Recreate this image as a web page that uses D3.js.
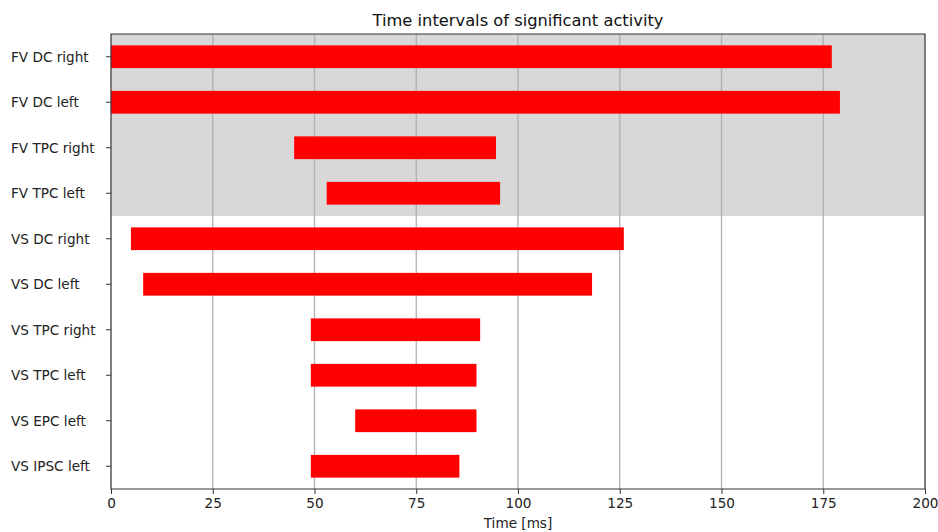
<!DOCTYPE html>
<html>
<head>
<meta charset="utf-8">
<script src="https://cdn.jsdelivr.net/npm/d3@7"></script>
<style>
  html, body { margin: 0; padding: 0; background: #fff; }
  svg { display: block; font-family: "DejaVu Sans", sans-serif; }
</style>
</head>
<body>
<svg id="chart" width="938" height="532"></svg>
<script>
const categories = ["FV DC right", "FV DC left", "FV TPC right", "FV TPC left",
  "VS DC right", "VS DC left", "VS TPC right", "VS TPC left", "VS EPC left", "VS IPSC left"];
const startTimes = [0, 0, 45.0, 53.0, 4.9, 7.9, 49.1, 49.1, 60.0, 49.1];
const endTimes = [177.1, 179.1, 94.6, 95.6, 126.0, 118.2, 90.7, 89.8, 89.8, 85.6];
const shadedCategories = ["FV DC right", "FV DC left", "FV TPC right", "FV TPC left"];
const xTicks = [0, 25, 50, 75, 100, 125, 150, 175, 200];
const xDomain = [0, 200];
const titleText = "Time intervals of significant activity";
const xLabel = "Time [ms]";

const svg = d3.select("#chart");
const margin = { left: 111, right: 13, top: 34, bottom: 43 };
const W = 938, H = 532;
const x = d3.scaleLinear().domain(xDomain).range([margin.left, W - margin.right]);
const y = d3.scaleBand().domain(categories).range([margin.top, H - margin.bottom]).paddingInner(0).paddingOuter(0);

// shading
const shadeTop = y(shadedCategories[0]);
const shadeBottom = y(shadedCategories[shadedCategories.length - 1]) + y.bandwidth();
svg.append("rect")
  .attr("x", x(xDomain[0])).attr("y", shadeTop)
  .attr("width", x(xDomain[1]) - x(xDomain[0])).attr("height", shadeBottom - shadeTop)
  .attr("fill", "#d8d8d8");

// grid
svg.append("g").selectAll("line").data(xTicks).join("line")
  .attr("x1", d => x(d)).attr("x2", d => x(d))
  .attr("y1", margin.top).attr("y2", H - margin.bottom)
  .attr("stroke", "#b0b0b0").attr("stroke-width", 1.3);

// bars
const rows = categories.map((c, i) => ({ c, s: startTimes[i], e: endTimes[i] }));
const bh = y.bandwidth() * 0.5;
svg.append("g").selectAll("rect").data(rows).join("rect")
  .attr("x", d => x(d.s))
  .attr("y", d => y(d.c) + (y.bandwidth() - bh) / 2)
  .attr("width", d => x(d.e) - x(d.s))
  .attr("height", bh)
  .attr("fill", "#ff0000");

// frame
svg.append("rect")
  .attr("x", margin.left).attr("y", margin.top)
  .attr("width", x(xDomain[1]) - x(xDomain[0])).attr("height", H - margin.bottom - margin.top)
  .attr("fill", "none").attr("stroke", "#333").attr("stroke-width", 1);

// x axis
const xAxis = svg.append("g").attr("transform", `translate(0,${H - margin.bottom})`)
  .call(d3.axisBottom(x).tickValues(xTicks).tickSize(5).tickPadding(4).tickFormat(d3.format("d")));
xAxis.select(".domain").remove();
xAxis.selectAll(".tick line").attr("stroke", "#333");
xAxis.selectAll(".tick text").attr("font-size", "13.6px").attr("fill", "#222")
  .attr("font-family", "DejaVu Sans, sans-serif");

// y axis
const yAxis = svg.append("g").attr("transform", `translate(${margin.left},0)`)
  .call(d3.axisLeft(y).tickSize(5).tickPadding(4));
yAxis.select(".domain").remove();
yAxis.selectAll(".tick line").attr("stroke", "#333");
yAxis.selectAll(".tick text").attr("font-size", "13.6px").attr("fill", "#222")
  .attr("font-family", "DejaVu Sans, sans-serif")
  .attr("text-anchor", "start").attr("x", 11 - margin.left).attr("dy", "0.38em");

// title
svg.append("text").attr("x", (x(xDomain[0]) + x(xDomain[1])) / 2).attr("y", 26)
  .attr("text-anchor", "middle").attr("font-size", "16.3px").attr("fill", "#111")
  .text(titleText);

// x label
svg.append("text").attr("x", (x(xDomain[0]) + x(xDomain[1])) / 2).attr("y", 527.5)
  .attr("text-anchor", "middle").attr("font-size", "13.6px").attr("fill", "#222")
  .text(xLabel);
</script>
</body>
</html>
